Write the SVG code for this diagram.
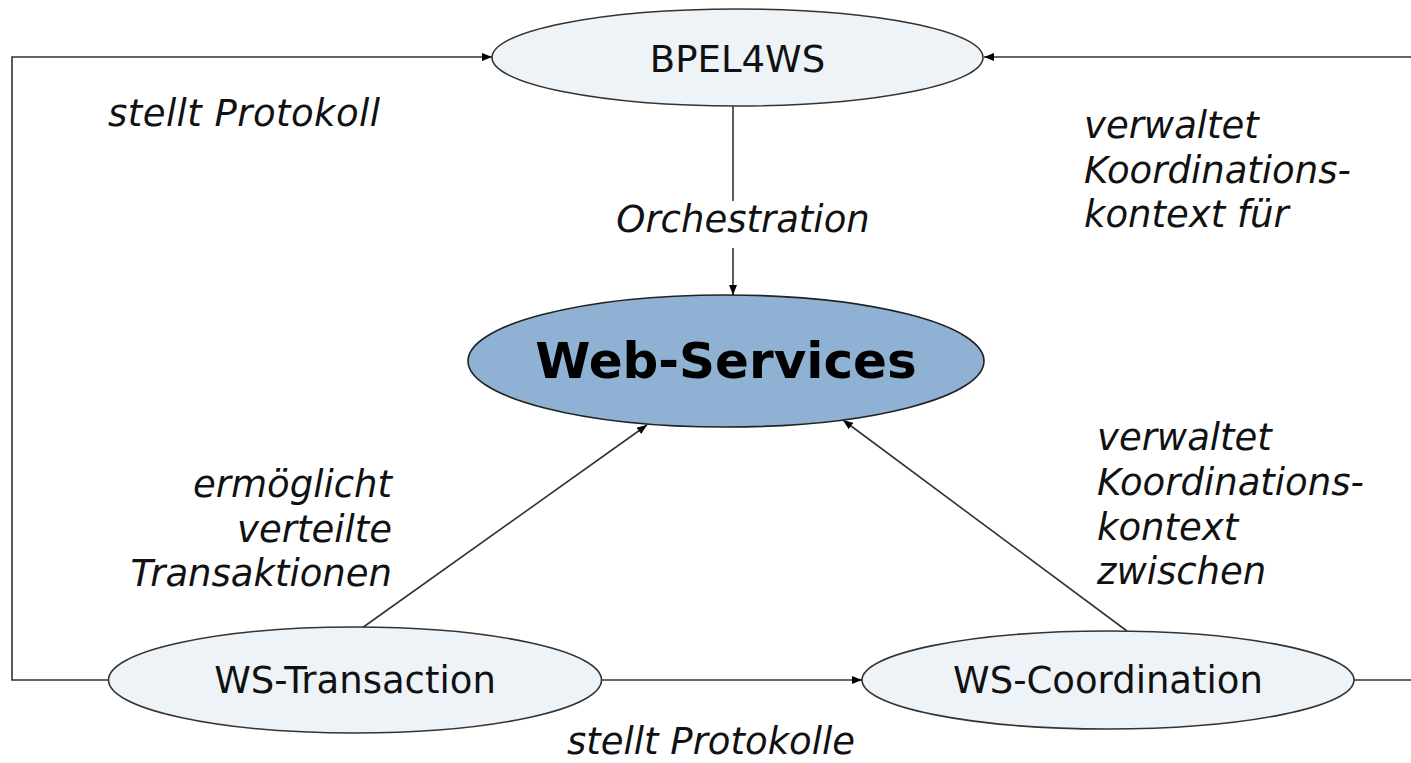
<svg xmlns="http://www.w3.org/2000/svg" width="1411" height="763" viewBox="0 0 1411 763">
<style>
.node{fill:#eef3f8;stroke:#333;stroke-width:1.6}
.main{fill:#8fb1d3;stroke:#222;stroke-width:1.6}
.lbl{font-family:"DejaVu Sans",Verdana,sans-serif;font-size:37px;fill:#111}
.it{font-family:"DejaVu Sans",Verdana,sans-serif;font-size:37px;font-style:italic;fill:#111}
.big{font-family:"DejaVu Sans",Verdana,sans-serif;font-size:50px;font-weight:bold;fill:#000}
.con{fill:none;stroke:#333;stroke-width:1.6}
</style>
<defs>
<marker id="ah" viewBox="0 0 10 8" refX="10" refY="4" markerWidth="10" markerHeight="8" markerUnits="userSpaceOnUse" orient="auto">
<path d="M0,0 L10,4 L0,8 Z" fill="#000"/>
</marker>
</defs>
<rect width="1411" height="763" fill="#fff"/>
<g id="connectors">
<polyline class="con" points="108,680 12,680 12,57 492,57" marker-end="url(#ah)"/>
<line class="con" x1="1411" y1="57" x2="984" y2="57" marker-end="url(#ah)"/>
<line class="con" x1="733" y1="106" x2="733" y2="201"/>
<line class="con" x1="733" y1="248" x2="733" y2="295" marker-end="url(#ah)"/>
<line class="con" x1="362" y1="628" x2="647" y2="425" marker-end="url(#ah)"/>
<line class="con" x1="1127" y1="631" x2="843" y2="420" marker-end="url(#ah)"/>
<line class="con" x1="601" y1="680" x2="862" y2="680" marker-end="url(#ah)"/>
<line class="con" x1="1354" y1="680" x2="1411" y2="680"/>
</g>
<g id="labels">
<text class="it" x="108" y="126" textLength="272">stellt Protokoll</text>
<text class="it" x="743" y="232" text-anchor="middle">Orchestration</text>
<text class="it" x="1084"><tspan x="1084" y="138">verwaltet</tspan><tspan x="1084" y="183">Koordinations-</tspan><tspan x="1084" y="227">kontext für</tspan></text>
<text class="it" text-anchor="end"><tspan x="392" y="497">ermöglicht</tspan><tspan x="392" y="542">verteilte</tspan><tspan x="392" y="586">Transaktionen</tspan></text>
<text class="it"><tspan x="1097" y="450">verwaltet</tspan><tspan x="1097" y="495">Koordinations-</tspan><tspan x="1097" y="540">kontext</tspan><tspan x="1097" y="584">zwischen</tspan></text>
<text class="it" x="711" y="754" text-anchor="middle">stellt Protokolle</text>
</g>
<g id="bpel4ws">
<ellipse class="node" cx="737.5" cy="57.5" rx="245.5" ry="48.5"/>
<text class="lbl" x="737.5" y="72" text-anchor="middle">BPEL4WS</text>
</g>
<g id="web-services">
<ellipse class="main" cx="726" cy="361" rx="258" ry="66"/>
<text class="big" x="726" y="378" text-anchor="middle">Web-Services</text>
</g>
<g id="ws-transaction">
<ellipse class="node" cx="355" cy="680" rx="246.5" ry="53"/>
<text class="lbl" x="355" y="693" text-anchor="middle">WS-Transaction</text>
</g>
<g id="ws-coordination">
<ellipse class="node" cx="1108" cy="680" rx="246" ry="49"/>
<text class="lbl" x="1108" y="693" text-anchor="middle">WS-Coordination</text>
</g>
</svg>
